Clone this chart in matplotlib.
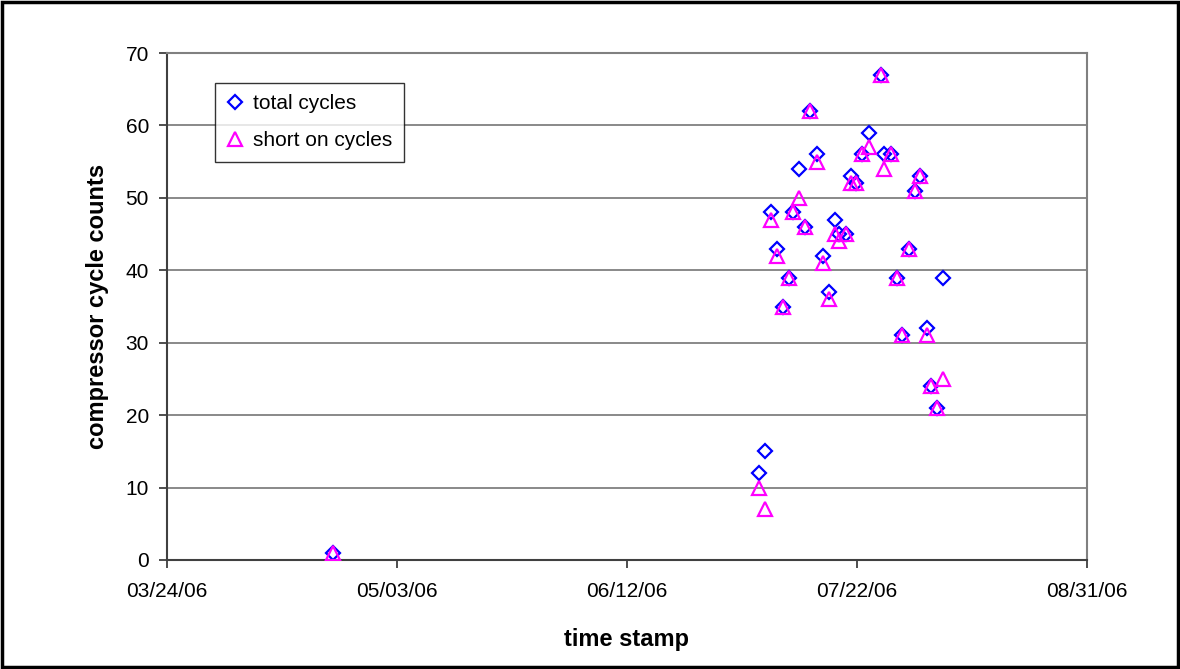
import matplotlib
matplotlib.use("Agg")
import matplotlib.pyplot as plt
import matplotlib.dates as mdates
import numpy as np

plt.rcParams['font.family'] = ['Liberation Sans', 'DejaVu Sans']

# days elapsed since 03/24/06 for each reading
day_offset = [28.9, 102.9, 104.0, 105.0, 106.0, 107.1, 108.1, 108.8, 109.9,
              111.0, 111.9, 113.0, 114.0, 115.1, 116.1, 116.9, 118.0, 118.9,
              119.9, 120.9, 122.1, 124.2, 124.7, 125.9, 126.9, 127.9, 129.0,
              130.0, 131.0, 132.1, 132.8, 133.9, 134.9]
total_cycles = [1, 12, 15, 48, 43, 35, 39, 48, 54, 46, 62, 56, 42, 37, 47, 45,
                45, 53, 52, 56, 59, 67, 56, 56, 39, 31, 43, 51, 53, 32, 24, 21, 39]
short_cycles = [1, 10, 7, 47, 42, 35, 39, 48, 50, 46, 62, 55, 41, 36, 45, 44,
                45, 52, 52, 56, 57, 67, 54, 56, 39, 31, 43, 51, 53, 31, 24, 21, 25]

start = np.datetime64('2006-03-24T00:00')
stamps = start + (np.array(day_offset) * 24 * 60).astype('timedelta64[m]')
stamps = stamps.astype('datetime64[ms]').astype(object)

fig = plt.figure(figsize=(11.8, 6.69), dpi=100)
ax = fig.add_axes([0.1415, 0.163, 0.7797, 0.7577])

ax.plot(stamps, total_cycles, 'D', ms=7.4, mfc='none', mec='#0000FF', mew=1.6,
        label='total cycles', zorder=3)
ax.plot(stamps, short_cycles, '^', ms=9.5, mfc='none', mec='#FF00FF', mew=1.6,
        label='short on cycles', zorder=3)

ax.set_xlim(mdates.date2num(np.datetime64('2006-03-24')),
            mdates.date2num(np.datetime64('2006-08-31')))
ax.set_ylim(0, 70)
ax.set_yticks(np.arange(0, 71, 10))
ticks = [np.datetime64('2006-03-24') + np.timedelta64(40 * i, 'D') for i in range(5)]
ax.set_xticks([mdates.date2num(t) for t in ticks])
ax.xaxis.set_major_formatter(mdates.DateFormatter('%m/%d/%y'))

ax.grid(axis='y', color='#808080', lw=1.3)
ax.set_axisbelow(True)
for side in ['top', 'right']:
    ax.spines[side].set_color('#808080')
    ax.spines[side].set_linewidth(1.5)
for side in ['left', 'bottom']:
    ax.spines[side].set_color('#404040')
    ax.spines[side].set_linewidth(1.5)
ax.tick_params(direction='out', length=6, width=1.3, color='#404040',
               labelsize=15)
ax.tick_params(axis='x', pad=10)
ax.tick_params(axis='y', pad=7)

ax.set_xlabel('time stamp', fontsize=17, fontweight='bold', labelpad=19)
ax.set_ylabel('compressor cycle counts', fontsize=17, fontweight='bold', labelpad=12)

leg = ax.legend(loc='upper left', bbox_to_anchor=(0.052, 0.941), fontsize=15,
                frameon=True, fancybox=False, edgecolor='black', handlelength=0.8,
                handletextpad=0.5, borderpad=0.55, labelspacing=0.85, borderaxespad=0)
leg.get_frame().set_linewidth(1.0)

# outer frame around the whole chart
fig.add_artist(plt.Rectangle((0.002, 0.003), 0.996, 0.994, transform=fig.transFigure,
                             fill=False, ec='black', lw=2.5))

fig.savefig('out.png', dpi=100)
